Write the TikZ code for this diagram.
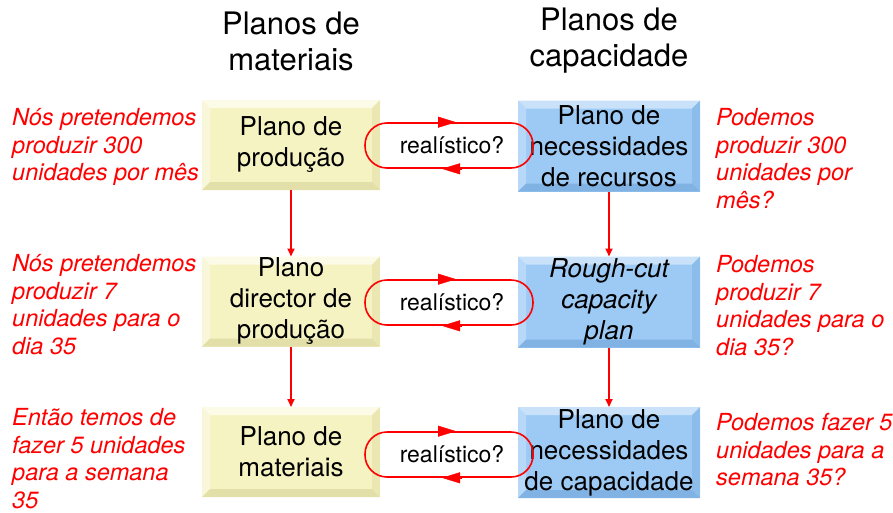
\documentclass[tikz,border=0pt]{standalone}
\usepackage{fontspec}
\setmainfont{TeX Gyre Heros}
\usetikzlibrary{arrows.meta,positioning,calc}
\definecolor{yFill}{HTML}{F6F3C3}
\definecolor{yLight}{HTML}{FCFBE8}
\definecolor{yDark}{HTML}{E3DFA9}
\definecolor{bFill}{HTML}{9DCAF5}
\definecolor{bLight}{HTML}{C9E2FA}
\definecolor{bDark}{HTML}{80B3E4}
\definecolor{noteRed}{HTML}{FF0000}
% bevelled edges of a box, #1 light and #2 dark colour
\newcommand{\bevel}[2]{%
	\coordinate (bl) at (path picture bounding box.south west);
	\coordinate (tr) at (path picture bounding box.north east);
	\coordinate (tl) at (bl|-tr);
	\coordinate (br) at (bl-|tr);
	\fill[#1] (tl) -- (tr) -- ([shift={(-8pt,-8pt)}]tr) -- ([shift={(8pt,-8pt)}]tl) -- cycle;
	\fill[#1,opacity=0.6] (tl) -- (bl) -- ([shift={(8pt,8pt)}]bl) -- ([shift={(8pt,-8pt)}]tl) -- cycle;
	\fill[#2,opacity=0.6] (tr) -- (br) -- ([shift={(-8pt,8pt)}]br) -- ([shift={(-8pt,-8pt)}]tr) -- cycle;
	\fill[#2] (bl) -- (br) -- ([shift={(-8pt,8pt)}]br) -- ([shift={(8pt,8pt)}]bl) -- cycle;}
\newcommand{\boxfont}{\fontsize{26}{31}\selectfont}
\newcommand{\notefont}{\fontsize{23.5}{27.7}\selectfont\itshape}
\tikzset{
	plan/.style={rectangle, inner sep=0, outer sep=0, align=center, font=\boxfont},
	matbox/.style={plan, fill=yFill, minimum width=178pt, minimum height=90pt,
		path picture={\bevel{yLight}{yDark}}},
	capbox/.style={plan, fill=bFill, minimum width=182pt, minimum height=91pt,
		path picture={\bevel{bLight}{bDark}}},
	check/.style={draw=noteRed, line width=1.6pt, rounded corners=22pt,
		minimum width=168pt, minimum height=45pt, font=\fontsize{23}{26}\selectfont},
	head/.style={align=center, font=\fontsize{31}{36}\selectfont},
	note/.style={align=left, anchor=north west, inner sep=0, text=noteRed, font=\notefont},
	flow/.style={draw=noteRed, line width=1.8pt, -{Triangle[length=8pt,width=7pt]}},
}

\begin{document}
\begin{tikzpicture}[x=1pt,y=-1pt]
	\useasboundingbox (0,0) rectangle (893,512);
	% column titles
	\node[head] (hmat) at (291,41) {Planos de\\materiais};
	\node[head] (hcap) at (609,41) {Planos de\\capacidade};
	% material plans
	\node[matbox] (m1) at (291,145) {Plano de\\produção};
	\node[matbox] (m2) at (291,301.5) {Plano\\director de\\produção};
	\node[matbox] (m3) at (291,452) {Plano de\\materiais};
	% capacity plans
	\node[capbox] (c1) at (609,146) {Plano de\\necessidades\\de recursos};
	\node[capbox] (c2) at (609,302) {\itshape Rough-cut\\\itshape capacity\\\itshape plan};
	\node[capbox] (c3) at (609,452.5) {Plano de\\necessidades\\de capacidade};
	% checks between the columns
	\foreach \r/\y in {1/145.5,2/302.5,3/454.5}{
		\node[check] (q\r) at (449,\y) {\hspace*{6pt}realístico?};
		\draw[noteRed, -{Triangle[length=18pt,width=11pt]}] ([xshift=-13pt]q\r.north) -- ([xshift=7pt]q\r.north);
		\draw[noteRed, -{Triangle[length=18pt,width=11pt]}] ([xshift=13pt]q\r.south) -- ([xshift=-7pt]q\r.south);
	}
	\draw[flow] (m1) -- (m2);
	\draw[flow] (m2) -- (m3);
	\draw[flow] (c1) -- (c2);
	\draw[flow] (c2) -- (c3);
	% notes on the left
	\node[note] (n1) at (12,108) {Nós pretendemos\\produzir 300\\unidades por mês};
	\node[note] (n2) at (12,254) {Nós pretendemos\\produzir 7\\unidades para o\\dia 35};
	\node[note] (n3) at (12,408) {Então temos de\\fazer 5 unidades\\para a semana\\35};
	% notes on the right
	\node[note] (p1) at (716,108) {Podemos\\produzir 300\\unidades por\\mês?};
	\node[note] (p2) at (716,255) {Podemos\\produzir 7\\unidades para o\\dia 35?};
	\node[note] (p3) at (716,413) {Podemos fazer 5\\unidades para a\\semana 35?};
\end{tikzpicture}
\end{document}
